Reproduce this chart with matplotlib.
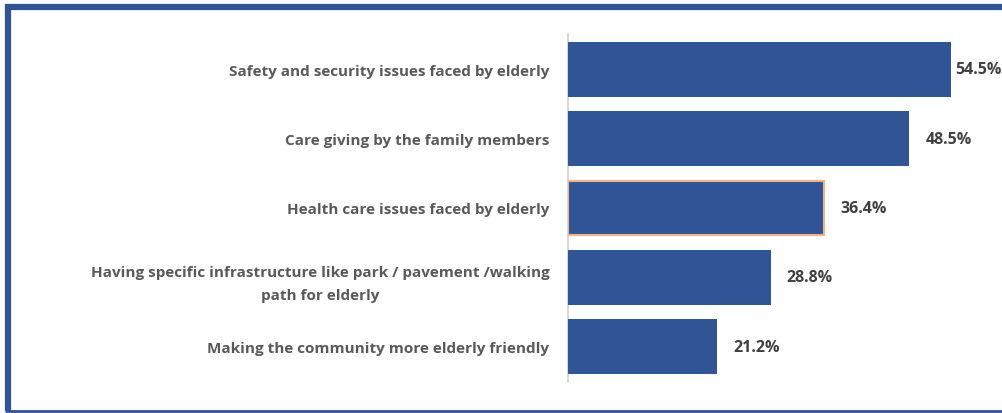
import matplotlib
matplotlib.use("Agg")
import matplotlib.pyplot as plt
from matplotlib.lines import Line2D

categories = [
    "Safety and security issues faced by elderly",
    "Care giving by the family members",
    "Health care issues faced by elderly",
    "Having specific infrastructure like park / pavement /walking\npath for elderly",
    "Making the community more elderly friendly",
]
values = [54.5, 48.5, 36.4, 28.8, 21.2]
value_labels = ["54.5%", "48.5%", "36.4%", "28.8%", "21.2%"]

BLUE = "#2F5597"
plt.rcParams["font.family"] = ["Open Sans", "DejaVu Sans"]

fig = plt.figure(figsize=(10.02, 4.14), dpi=100)
ax = fig.add_axes([0.5669, 0.0761, 0.4212, 0.8382])

ypos = list(range(len(categories)))
bars = ax.barh(ypos, values, height=0.79, color=BLUE, zorder=3)
# highlighted bar outline
bars[2].set_edgecolor("#F4B183")
bars[2].set_linewidth(1.5)

XMAX = 60
for y, v, lab in zip(ypos, values, value_labels):
    # keep the label inside the frame for the longest bar
    xt = min(v + 2.3, XMAX - 5.0)
    ax.text(xt, y, lab, va="center", ha="left", fontsize=11.5,
            fontweight="bold", color="#404040")

ax.set_xlim(0, XMAX)
ax.set_ylim(len(categories) - 0.5, -0.5)
ax.set_yticks(ypos)
ax.set_yticklabels(categories, fontsize=11, fontweight="bold", color="#595959",
                   linespacing=1.8)
for t in ax.get_yticklabels():
    t.set_horizontalalignment("right")
    t.set_multialignment("center")
ax.tick_params(axis="y", length=0, pad=13.5)
ax.set_xticks([])
for s in ["top", "right", "bottom"]:
    ax.spines[s].set_visible(False)
ax.spines["left"].set_color("#D9D9D9")
ax.spines["left"].set_linewidth(1.5)

# outer frame
fig.add_artist(Line2D([7.5 / 1002, 7.5 / 1002], [1 - 5 / 414, 1 - 412 / 414],
                      transform=fig.transFigure, color=BLUE, lw=4.5,
                      solid_capstyle="butt"))
fig.add_artist(Line2D([5 / 1002, 1.0], [1 - 7.5 / 414, 1 - 7.5 / 414],
                      transform=fig.transFigure, color=BLUE, lw=4.5,
                      solid_capstyle="butt"))
fig.add_artist(Line2D([5 / 1002, 1.0], [1 - 412 / 414, 1 - 412 / 414],
                      transform=fig.transFigure, color=BLUE, lw=2,
                      solid_capstyle="butt"))

fig.savefig("out.png", dpi=100, facecolor="white")
